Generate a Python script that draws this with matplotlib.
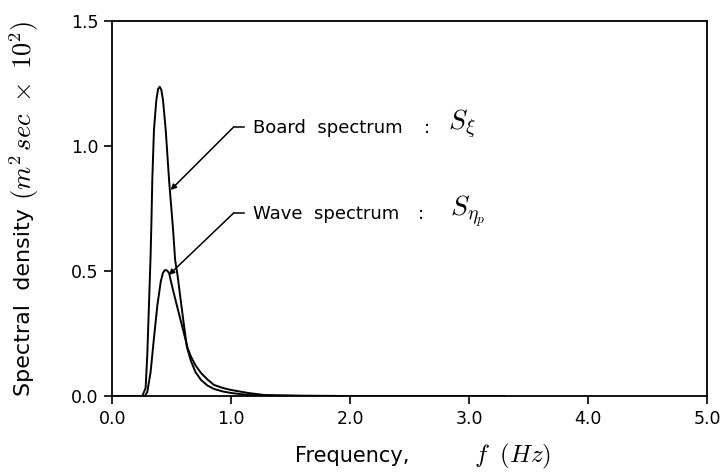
import numpy as np
import matplotlib.pyplot as plt

plt.rcParams['mathtext.fontset'] = 'cm'
plt.rcParams['font.family'] = 'DejaVu Sans'

# board spectrum S_xi
f_board = [0.0, 0.252, 0.280, 0.294, 0.308, 0.322, 0.329, 0.336, 0.350, 0.370, 0.385,
           0.398, 0.412, 0.426, 0.449, 0.477, 0.511, 0.528, 0.548, 0.591, 0.627,
           0.661, 0.70, 0.746, 0.80, 0.856, 0.93, 1.0, 1.144, 1.3, 2.0, 3.3]
s_board = [0.0, 0.0, 0.032, 0.164, 0.364, 0.564, 0.70, 0.864, 1.064, 1.184, 1.228,
           1.237, 1.225, 1.184, 1.064, 0.864, 0.664, 0.544, 0.484, 0.324, 0.196,
           0.140, 0.095, 0.064, 0.042, 0.028, 0.018, 0.012, 0.004, 0.001, 0.0, 0.0]

# wave spectrum S_eta_p
f_wave = [0.0, 0.274, 0.294, 0.322, 0.350, 0.379, 0.407, 0.425, 0.443, 0.460, 0.477,
          0.506, 0.548, 0.591, 0.633, 0.661, 0.70, 0.746, 0.80, 0.856, 0.93, 1.0,
          1.144, 1.28, 1.6, 2.0, 3.3]
s_wave = [0.0, 0.0, 0.016, 0.096, 0.232, 0.364, 0.457, 0.492, 0.504, 0.502, 0.492,
          0.432, 0.352, 0.272, 0.192, 0.158, 0.122, 0.092, 0.066, 0.044, 0.032, 0.024,
          0.012, 0.004, 0.001, 0.0, 0.0]

xticks = [0.0, 1.0, 2.0, 3.0, 4.0, 5.0]
yticks = [0.0, 0.5, 1.0, 1.5]

fig = plt.figure(figsize=(7.2, 4.72), dpi=100)
ax = fig.add_axes([0.156, 0.161, 0.826, 0.7945])

ax.plot(f_board, s_board, color='black', lw=1.4)
ax.plot(f_wave, s_wave, color='black', lw=1.4)

ax.set_xlim(0, 5)
ax.set_ylim(0, 1.5)
ax.set_xticks(xticks)
ax.set_yticks(yticks)
ax.set_xticklabels(['%.1f' % v for v in xticks], fontsize=12.5)
ax.set_yticklabels(['%.1f' % v for v in yticks], fontsize=12.5)
ax.tick_params(direction='out', length=6, width=1.2, pad=4)
for sp in ax.spines.values():
    sp.set_linewidth(1.3)

# axis labels, plain part and math part set separately so the math can be bigger
fig.text(295 / 720, 1 - 462 / 472, 'Frequency,', fontsize=15, ha='left', va='baseline')
fig.text(474 / 720, 1 - 462 / 472, r'$f\;\ (Hz)$', fontsize=18, ha='left', va='baseline')
fig.text(24 / 720, 1 - 396 / 472, 'Spectral  density', fontsize=16, rotation=90,
         ha='center', va='bottom')
fig.text(24 / 720, 1 - 200 / 472, r'$(m^2\,sec\ \times\ 10^2)$', fontsize=19, rotation=90,
         ha='center', va='bottom')

# annotations with elbow leaders
arrow = dict(arrowstyle='-|>', color='black', lw=1.1, mutation_scale=8, shrinkA=0, shrinkB=0)
ax.annotate('', xy=(0.49, 0.824), xytext=(1.02, 1.076), arrowprops=arrow)
ax.plot([1.02, 1.11], [1.076, 1.076], color='black', lw=1.1)
ax.text(1.18, 1.072, 'Board  spectrum', fontsize=13, va='center')
ax.text(2.62, 1.072, ':', fontsize=13, va='center')
ax.text(2.82, 1.085, r'$S_{\xi}$', fontsize=20, va='center')

ax.annotate('', xy=(0.475, 0.484), xytext=(1.02, 0.732), arrowprops=arrow)
ax.plot([1.02, 1.11], [0.732, 0.732], color='black', lw=1.1)
ax.text(1.18, 0.728, 'Wave  spectrum', fontsize=13, va='center')
ax.text(2.57, 0.728, ':', fontsize=13, va='center')
ax.text(2.84, 0.74, r'$S_{\eta_p}$', fontsize=20, va='center')

plt.savefig('out.png', dpi=100)
